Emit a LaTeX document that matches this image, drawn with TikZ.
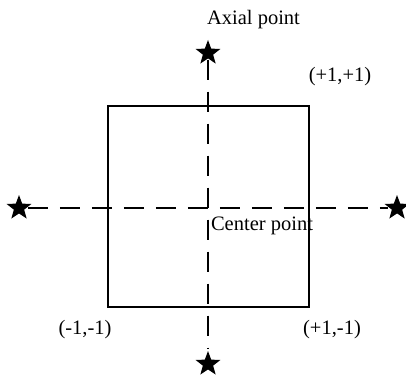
\documentclass[tikz,border=0pt]{standalone}
\usepackage{fontspec}
\setmainfont{Liberation Serif}
\usetikzlibrary{shapes.geometric}

\begin{document}
\begin{tikzpicture}[x=1pt,y=-1pt,line width=2pt,
	axisstar/.style={star,star points=5,star point ratio=2.4,fill=black,draw=none,minimum size=26,inner sep=0},
	axisline/.style={dash pattern=on 20pt off 12pt},
	lbl/.style={font=\fontsize{20.5}{24}\selectfont,inner sep=0}]
	\useasboundingbox (0,0) rectangle (406,377);
	\node at (208.5,206.5) [draw,minimum size=201,inner sep=0] (sq) {};
	\node at (208,53) [axisstar] (st) {};
	\node at (208,364) [axisstar] (sb) {};
	\node at (19,208) [axisstar] (sl) {};
	\node at (397,208) [axisstar] (sr) {};
	\draw [axisline] (st) -- (sb);
	\draw [axisline] (sl) -- (sr);
	\node at (253.5,20) [lbl] (axial) {Axial point};
	\node at (340,77) [lbl] (pp) {(+1,+1)};
	\node at (262,226) [lbl] (center) {Center point};
	\node at (85,330) [lbl] (mm) {(-1,-1)};
	\node at (332,330) [lbl] (pm) {(+1,-1)};
\end{tikzpicture}
\end{document}
